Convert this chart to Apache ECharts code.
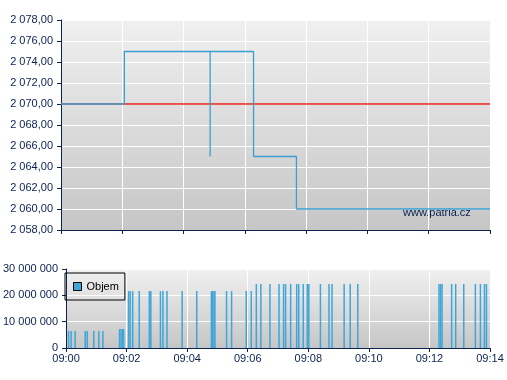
<!DOCTYPE html>
<html><head><meta charset="utf-8">
<script src="https://cdn.jsdelivr.net/npm/echarts@6/dist/echarts.min.js"></script>
<style>html,body{margin:0;padding:0;background:#fff}#c{width:507px;height:380px}</style>
</head><body><div id="c"></div>
<script>
// ---- data ----
const xTickLabels = ['09:00','09:02','09:04','09:06','09:08','09:10','09:12','09:14'];
const priceTimes  = ['09:00:00','09:02:04','09:04:52','09:04:52','09:06:17','09:07:41','09:14:00'];
const priceValues = [2070, 2075, 2065, 2075, 2065, 2060, 2060];
const referencePrice = 2070;
const tradeTimes = [
  '09:00:05','09:00:10','09:00:18','09:00:38','09:00:42','09:00:55','09:01:05','09:01:13',
  '09:01:46','09:01:49','09:01:52','09:01:54',
  '09:02:04','09:02:07','09:02:12','09:02:25','09:02:45','09:02:48','09:03:07','09:03:12','09:03:20','09:03:50','09:04:19',
  '09:04:48','09:04:50','09:04:53','09:04:55',
  '09:05:18','09:05:28','09:05:57','09:06:07',
  '09:06:17','09:06:26','09:06:44','09:07:02','09:07:11','09:07:15','09:07:25','09:07:37','09:07:41',
  '09:07:50','09:07:58','09:08:01','09:08:24','09:08:41','09:08:47','09:09:11','09:09:23','09:09:38',
  '09:12:19','09:12:22','09:12:25','09:12:44','09:12:52','09:13:08','09:13:31','09:13:41','09:13:49','09:13:53'
];
const tradeVolumes = [
  6500000,6500000,6500000,6500000,6500000,6500000,6500000,6500000,
  7200000,7200000,7200000,7200000,
  21600000,21600000,21600000,21600000,21600000,21600000,21600000,21600000,21600000,21600000,21600000,
  21600000,21600000,21600000,21600000,
  21600000,21600000,21600000,21600000,
  24300000,24300000,24300000,24300000,24300000,24300000,24300000,24300000,24300000,
  24300000,24300000,24300000,24300000,24300000,24300000,24300000,24300000,24300000,
  24300000,24300000,24300000,24300000,24300000,24300000,24300000,24300000,24300000,24300000
];
const seriesName = 'Objem';
const watermark = 'www.patria.cz';

// ---- helpers ----
function toSec(t){const p=t.split(':').map(Number);return (p[0]-9)*3600+p[1]*60+(p[2]||0);}
const xMin = toSec(xTickLabels[0]), xMax = toSec(xTickLabels[xTickLabels.length-1]);
function fmtTime(v){const m=Math.round(v/60);return '09:'+String(m).padStart(2,'0');}
function grp(n){return String(n).replace(/\B(?=(\d{3})+(?!\d))/g,' ');}
function fmtPrice(v){const s=v.toFixed(2).split('.');return grp(s[0])+','+s[1];}

const NAVY='#0b2150';
const FONT='"Liberation Sans", Arial, sans-serif';
const bg={type:'linear',x:0,y:0,x2:0,y2:1,colorStops:[{offset:0,color:'#f0f0f0'},{offset:1,color:'#c6c6c6'}]};
const lineColor='#3aa0d2';

const chart=echarts.init(document.getElementById('c'),null,{renderer:'canvas'});
function xAxisCfg(idx,showLabels){
  return {type:'value',gridIndex:idx,min:xMin,max:xMax,interval:120,
    axisLine:{show:true,onZero:false,lineStyle:{color:NAVY,width:1}},
    axisTick:{show:true,length:4,lineStyle:{color:NAVY}},
    axisLabel:{show:showLabels,formatter:fmtTime,color:NAVY,fontSize:11,fontFamily:FONT,margin:5},
    splitLine:{show:true,lineStyle:{color:'#ffffff',width:1}}};
}
chart.setOption({
  animation:false,
  grid:[
    {left:61,top:20,width:429,height:210,show:true,backgroundColor:bg,borderWidth:0},
    {left:61,top:269,width:429,height:79,show:true,backgroundColor:bg,borderWidth:0}
  ],
  xAxis:[xAxisCfg(0,false),xAxisCfg(1,true)],
  yAxis:[
    {type:'value',gridIndex:0,min:2058,max:2078,interval:2,
     axisLine:{show:true,lineStyle:{color:NAVY,width:1}},
     axisTick:{show:true,length:4,lineStyle:{color:NAVY}},
     axisLabel:{formatter:fmtPrice,color:NAVY,fontSize:11,fontFamily:FONT,margin:8},
     splitLine:{show:true,lineStyle:{color:'#ffffff',width:1}}},
    {type:'value',gridIndex:1,min:0,max:30000000,interval:10000000,
     axisLine:{show:true,lineStyle:{color:NAVY,width:1}},
     axisTick:{show:true,length:4,lineStyle:{color:NAVY}},
     axisLabel:{formatter:grp,color:NAVY,fontSize:11,fontFamily:FONT,margin:8},
     splitLine:{show:true,lineStyle:{color:'#ffffff',width:1}}}
  ],
  legend:{data:[{name:seriesName,icon:'rect'}],left:65,top:273,orient:'vertical',
    padding:[8,6,8,8],itemWidth:8,itemHeight:8,itemGap:0,
    borderColor:'#000',borderWidth:1,backgroundColor:'transparent',
    itemStyle:{borderColor:'#000',borderWidth:1},
    textStyle:{color:'#000',fontSize:11,fontFamily:FONT}},
  graphic:[{type:'text',left:403,top:207,style:{text:watermark,fill:NAVY,font:'11px '+FONT}}],
  series:[
    {type:'line',name:'ref',xAxisIndex:0,yAxisIndex:0,symbol:'none',silent:true,z:2,
     data:[[xMin,referencePrice],[xMax,referencePrice]],lineStyle:{color:'#e8201c',width:1.3}},
    {type:'line',name:'cena',xAxisIndex:0,yAxisIndex:0,symbol:'none',step:'end',z:3,
     data:priceTimes.map((t,i)=>[toSec(t),priceValues[i]]),lineStyle:{color:lineColor,width:1.3}},
    {type:'bar',name:seriesName,xAxisIndex:1,yAxisIndex:1,barWidth:1.5,
     itemStyle:{color:'#3ea6d8'},
     data:tradeTimes.map((t,i)=>[toSec(t),tradeVolumes[i]])}
  ]
});
</script></body></html>
